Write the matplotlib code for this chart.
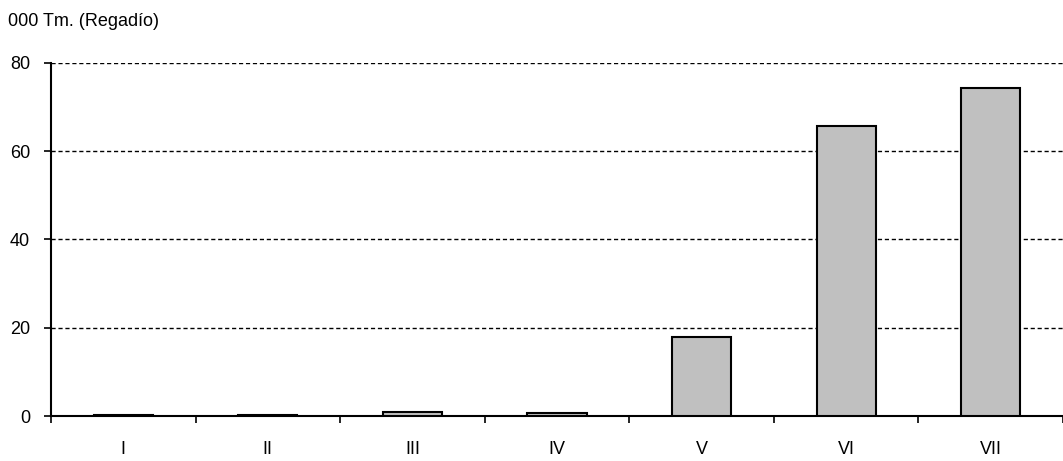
import matplotlib
matplotlib.use("Agg")
import matplotlib.pyplot as plt

categories = ["I", "II", "III", "IV", "V", "VI", "VII"]
values = [0.3, 0.3, 0.8, 0.7, 18.0, 65.7, 74.4]
yticks = [0, 20, 40, 60, 80]

plt.rcParams['font.family'] = ['Liberation Sans', 'DejaVu Sans']

fig = plt.figure(figsize=(10.63, 4.61), dpi=100)
ax = fig.add_axes([51/1063, 45/461, 1 - 51/1063, (416-63)/461])

x = list(range(len(categories)))
ax.bar(x, values, width=0.41, color="#c0c0c0", edgecolor="black", linewidth=1.5, zorder=3)

ax.set_xlim(-0.5, len(categories) - 0.5)
ax.set_ylim(0, 80)
ax.set_yticks(yticks)
ax.set_yticklabels([str(v) for v in yticks], fontsize=13)
ax.yaxis.grid(True, linestyle=(0, (3, 2)), color="black", linewidth=1, zorder=0)
ax.set_axisbelow(True)

ax.set_xticks([i - 0.5 for i in range(len(categories) + 1)], minor=False)
ax.set_xticklabels([])
ax.set_xticks(x, minor=True)
ax.set_xticklabels(categories, minor=True, fontsize=13)
ax.tick_params(axis='x', which='minor', length=0, pad=18)
ax.tick_params(axis='x', which='major', length=5, width=1.2, direction='out')
ax.tick_params(axis='y', length=5, width=1.2, direction='out', pad=10)

for s in ["top", "right"]:
    ax.spines[s].set_visible(False)
ax.spines["left"].set_linewidth(1.5)
ax.spines["bottom"].set_linewidth(1.5)

fig.text(8/1063, 1 - 22/461, "000 Tm. (Regadío)", fontsize=13, va="center", ha="left")

fig.savefig("out.png", dpi=100)
